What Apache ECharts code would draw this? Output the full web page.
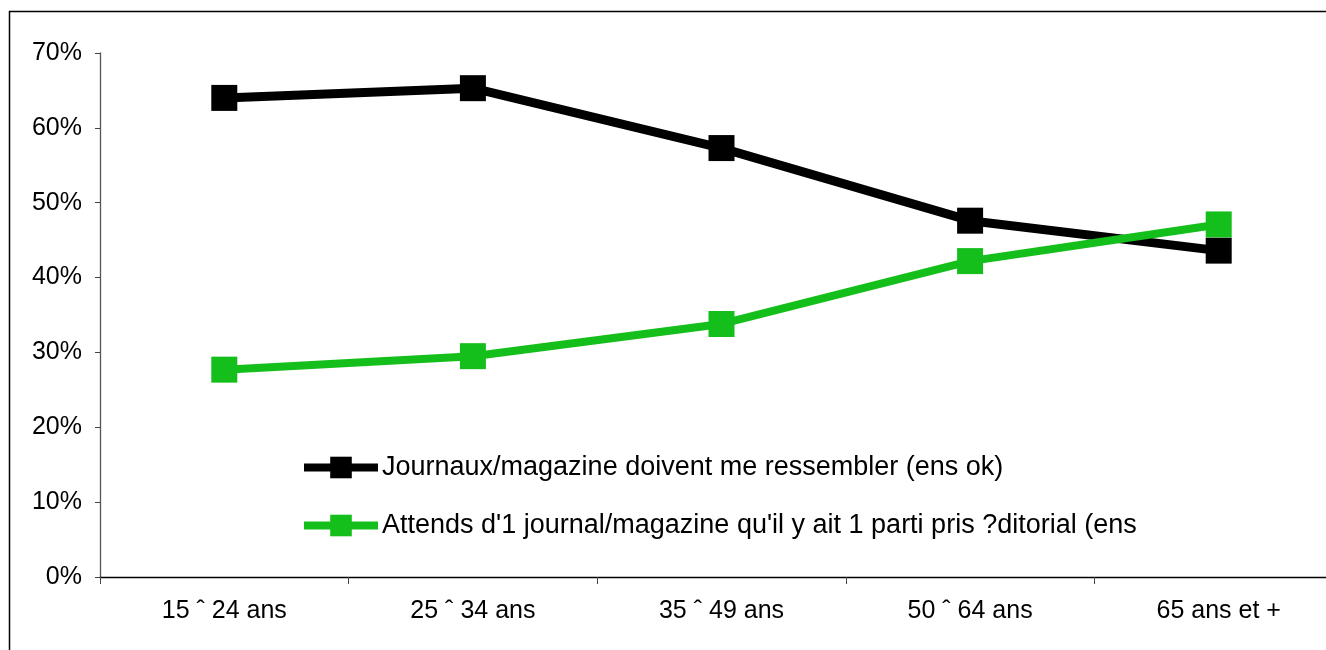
<!DOCTYPE html>
<html>
<head>
<meta charset="utf-8">
<script src="https://cdn.jsdelivr.net/npm/echarts@6/dist/echarts.min.js"></script>
<style>
	html, body { margin: 0; padding: 0; background: #fff; }
	#chart { width: 1326px; height: 650px; }
</style>
</head>
<body>
<div id="chart"></div>
<script>
// tranches d'age
var categories = ['15 ˆ 24 ans', '25 ˆ 34 ans', '35 ˆ 49 ans', '50 ˆ 64 ans', '65 ans et +'];
var yTicks = [0, 10, 20, 30, 40, 50, 60, 70];
var seriesNames = [
	'Journaux/magazine doivent me ressembler (ens ok)',
	"Attends d'1 journal/magazine qu'il y ait 1 parti pris ?ditorial (ens"
];
var ressembler = [64.0, 65.3, 57.3, 47.6, 43.6];
var partiPris = [27.7, 29.5, 33.8, 42.2, 47.1];

var myChart = echarts.init(document.getElementById('chart'));
var option = {
	animation: false,
	textStyle: { fontFamily: 'Liberation Sans, Arial, sans-serif' },
	color: ['#000000', '#15BF1B'],
	graphic: [{
		type: 'rect',
		shape: { x: 9.5, y: 11.5, width: 1400, height: 700 },
		style: { fill: 'none', stroke: '#000', lineWidth: 1.5 },
		silent: true
	}],
	legend: {
		orient: 'vertical',
		left: 300,
		top: 454,
		padding: 0,
		itemWidth: 74,
		itemHeight: 27,
		itemGap: 31,
		lineStyle: { width: 8 },
		textStyle: { fontSize: 27, color: '#000', padding: [0, 0, 0, -1] },
		data: seriesNames
	},
	grid: {
		left: 100,
		width: 1243,
		top: 53,
		bottom: 73,
		outerBoundsMode: 'none'
	},
	xAxis: {
		type: 'category',
		boundaryGap: true,
		data: categories,
		axisLine: { lineStyle: { color: '#000', width: 1.3 } },
		axisTick: { show: true, length: 7, inside: false, lineStyle: { color: '#444' } },
		axisLabel: { fontSize: 25, color: '#000', margin: 22 }
	},
	yAxis: {
		type: 'value',
		min: yTicks[0],
		max: yTicks[yTicks.length - 1],
		interval: 10,
		splitLine: { show: false },
		axisLine: { show: true, lineStyle: { color: '#555', width: 1.3 } },
		axisTick: { show: true, length: 5, lineStyle: { color: '#444' } },
		axisLabel: { fontSize: 25, color: '#000', margin: 18, formatter: '{value}%' }
	},
	series: [
		{
			name: seriesNames[0],
			type: 'line',
			data: ressembler,
			symbol: 'rect',
			symbolSize: 26,
			lineStyle: { width: 9, color: '#000' },
			itemStyle: { color: '#000' }
		},
		{
			name: seriesNames[1],
			type: 'line',
			data: partiPris,
			symbol: 'rect',
			symbolSize: 26,
			lineStyle: { width: 8, color: '#15BF1B' },
			itemStyle: { color: '#15BF1B' }
		}
	]
};
myChart.setOption(option);
</script>
</body>
</html>
